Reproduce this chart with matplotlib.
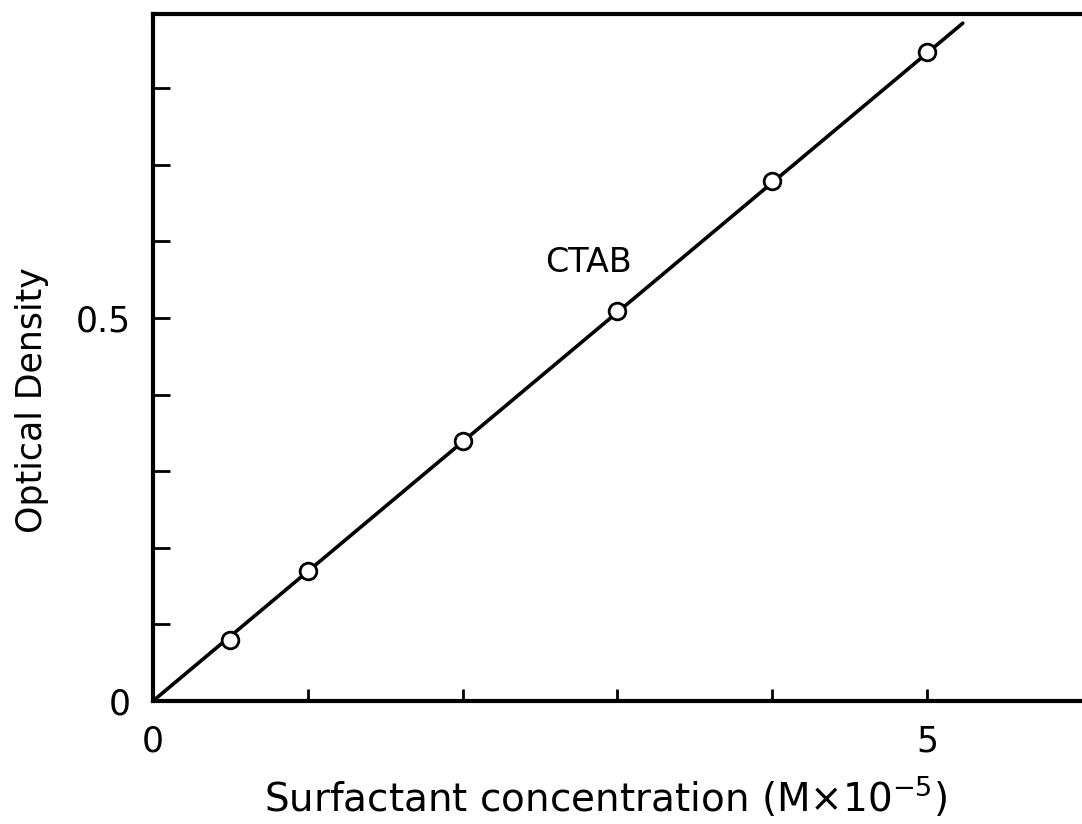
import numpy as np
from matplotlib import pyplot as plt

# CTAB calibration points
conc = [0.5, 1.0, 2.0, 3.0, 4.0, 5.0]
od = [0.080, 0.170, 0.339, 0.509, 0.679, 0.847]

# fitted straight line through the origin
fit_x = [0.0, 5.23]
fit_y = [0.0, 0.885]

x_ticks = [0, 1, 2, 3, 4, 5]
x_labels = ["0", "", "", "", "", "5"]
y_ticks = [0, 0.1, 0.2, 0.3, 0.4, 0.5, 0.6, 0.7, 0.8]
y_labels = ["0", "", "", "", "", "0.5", "", "", ""]

plt.rcParams['font.family'] = ['DejaVu Sans']

fig = plt.figure(figsize=(10.82, 8.24), dpi=100)
ax = fig.add_axes([0.1414, 0.1493, 0.8586, 0.8337])

ax.plot(fit_x, fit_y, color='black', lw=2.6, solid_capstyle='round')
ax.plot(conc, od, 'o', ms=12, mfc='white', mec='black', mew=2.0)

ax.set_xlim(0, 6.0)
ax.set_ylim(0, 0.897)

ax.set_xticks(x_ticks)
ax.set_xticklabels(x_labels)
ax.set_yticks(y_ticks)
ax.set_yticklabels(y_labels)

ax.tick_params(axis='x', direction='in', length=9, width=2, pad=17, labelsize=25)
ax.tick_params(axis='y', direction='in', length=12, width=2, pad=16, labelsize=25)

for side in ['left', 'bottom', 'top']:
    ax.spines[side].set_linewidth(3.0)
ax.spines['right'].set_visible(False)

ax.text(2.81, 0.572, "CTAB", fontsize=24, ha='center', va='center')

fig.text(0.56, 0.016, r"Surfactant concentration (M$\times$10$^{-5}$)",
         fontsize=28, ha='center', va='baseline')
fig.text(0.03, 0.515, "Optical Density", fontsize=25, rotation=90,
         ha='center', va='center')

plt.savefig("out.png", dpi=100)
